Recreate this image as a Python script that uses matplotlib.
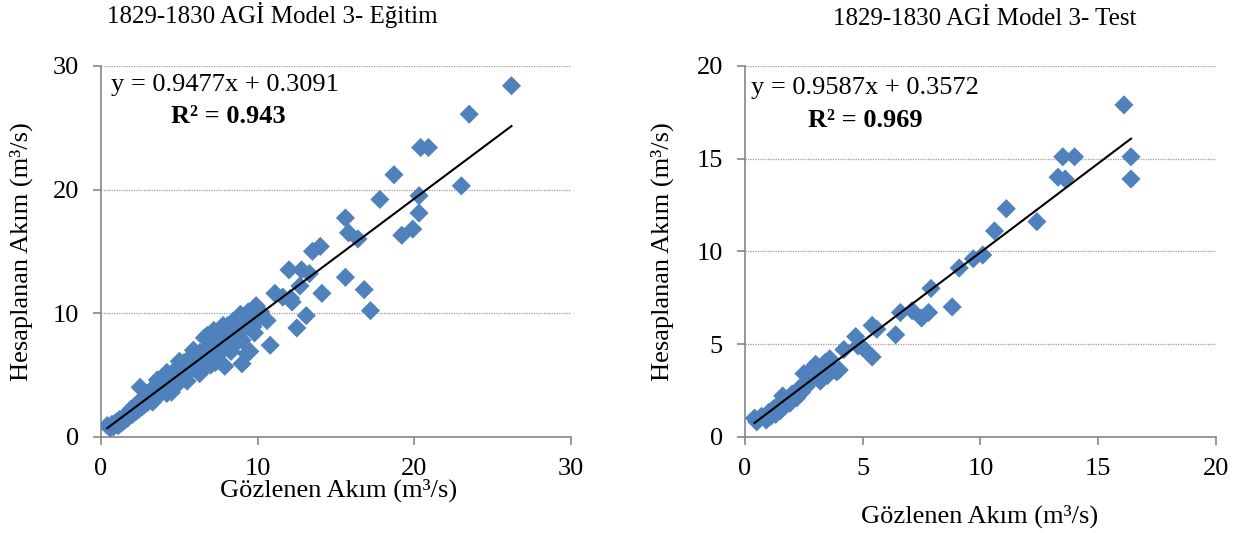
import numpy as np
import matplotlib
matplotlib.use("Agg")
import matplotlib.pyplot as plt

plt.rcParams["font.family"] = ["Liberation Serif", "DejaVu Serif"]

# Eğitim (training) set: observed vs. computed flow, m3/s
train_obs = [0.4, 0.6, 0.7, 0.8, 0.9, 1.0, 1.1, 1.2, 1.3, 1.4, 1.5, 1.6, 1.7, 1.8,
             1.9, 2.0, 2.1, 2.2, 2.3, 2.4, 2.5, 2.5, 2.6, 2.7, 2.8, 2.9, 3.0, 3.1,
             3.2, 3.3, 3.4, 3.5, 3.6, 3.7, 3.8, 3.9, 4.0, 4.1, 4.2, 4.3, 4.4, 4.5,
             4.6, 4.7, 4.8, 4.9, 5.0, 5.1, 5.2, 5.3, 5.4, 5.5, 5.6, 5.7, 5.8, 5.9,
             6.0, 6.1, 6.2, 6.3, 6.4, 6.5, 6.6, 6.7, 6.8, 6.9, 7.0, 7.1, 7.3, 7.4,
             7.5, 7.6, 7.7, 7.8, 7.9, 8.0, 8.2, 8.4, 8.5, 8.6, 8.8, 9.0, 9.0, 9.2,
             9.3, 9.5, 9.6, 9.8, 9.9, 10.1, 10.2, 10.6, 10.8, 11.1, 11.6, 12.0,
             12.1, 12.2, 12.5, 12.7, 12.8, 13.1, 13.3, 13.5, 14.0, 14.1, 15.6,
             15.6, 15.8, 16.4, 16.8, 17.2, 17.8, 18.7, 19.2, 19.9, 20.3, 20.3,
             20.4, 20.9, 23.0, 23.5, 26.2,
             3.3, 3.6, 4.2, 4.5, 5.0, 5.5, 6.3, 6.8, 7.0, 7.2, 8.1, 8.3, 8.9,
             9.4, 9.7]
train_pred = [0.9, 0.7, 1.0, 0.8, 1.1, 1.2, 0.9, 1.4, 1.1, 1.5, 1.3, 1.7, 1.5, 1.9,
              2.2, 1.8, 2.4, 2.0, 2.6, 2.2, 4.0, 2.9, 2.4, 3.1, 2.6, 3.4, 2.8, 3.6,
              3.0, 3.9, 3.2, 4.1, 3.3, 3.8, 4.4, 3.6, 4.7, 3.9, 3.5, 4.9, 4.2, 5.1,
              4.4, 4.0, 5.4, 4.6, 5.7, 4.9, 5.3, 6.0, 5.0, 5.6, 6.3, 5.4, 5.9, 7.0,
              5.5, 6.4, 5.9, 6.8, 6.1, 5.5, 8.0, 6.6, 7.2, 6.3, 7.6, 6.9, 6.0, 7.4,
              8.3, 7.0, 6.9, 9.0, 5.7, 7.8, 8.6, 9.3, 7.4, 8.2, 8.9, 5.9, 7.8, 8.8,
              6.7, 6.9, 9.4, 8.4, 10.6, 9.6, 10.1, 9.4, 7.4, 11.6, 11.3, 13.5,
              11.2, 10.9, 8.8, 12.2, 13.5, 9.8, 13.2, 15.0, 15.4, 11.6, 17.7,
              12.9, 16.5, 16.0, 11.9, 10.2, 19.2, 21.2, 16.3, 16.8, 18.1, 19.5,
              23.4, 23.4, 20.3, 26.1, 28.4,
              2.8, 4.6, 5.2, 3.6, 6.1, 4.5, 5.1, 8.2, 5.8, 8.6, 9.0, 6.9, 9.9,
              10.1, 8.9]

# Test set
test_obs = [0.4, 0.5, 0.7, 0.9, 1.0, 1.1, 1.2, 1.3, 1.4, 1.5, 1.6, 1.7, 1.8, 1.9,
            2.0, 2.2, 2.3, 2.4, 2.5, 2.6, 2.7, 2.8, 2.9, 3.0, 3.1, 3.2, 3.3, 3.4,
            3.5, 3.6, 3.7, 3.9, 4.0, 4.2, 4.7, 4.8, 5.0, 5.4, 5.4, 5.6, 6.4, 6.6,
            7.1, 7.5, 7.8, 7.9, 8.8, 9.1, 9.7, 10.1, 10.6, 11.1, 12.4, 13.3,
            13.5, 13.6, 14.0, 16.1, 16.4, 16.4]
test_pred = [1.0, 0.8, 1.1, 0.9, 1.3, 1.1, 1.5, 1.2, 1.7, 1.4, 2.2, 1.7, 2.0, 1.8,
             2.3, 2.1, 2.6, 2.4, 3.4, 2.7, 3.0, 3.6, 3.2, 3.9, 3.4, 3.0, 3.6, 4.0,
             3.3, 4.2, 3.7, 3.5, 3.6, 4.7, 5.4, 4.9, 4.8, 4.3, 6.0, 5.8, 5.5, 6.7,
             6.8, 6.4, 6.7, 8.0, 7.0, 9.1, 9.6, 9.8, 11.1, 12.3, 11.6, 14.0,
             15.1, 13.9, 15.1, 17.9, 15.1, 13.9]

train_fit = (0.9477, 0.3091, 0.943)
test_fit = (0.9587, 0.3572, 0.969)

BLUE = "#4F81BD"
AXIS_GREY = "#868686"
FS = 18
FS_BIG = 19


def draw_panel(ax, obs, pred, fit, lim, step, eq_xy, r2_xy):
    ax.scatter(obs, pred, marker="D", s=95, color=BLUE, edgecolors="none",
               zorder=3)
    slope, icpt, r2 = fit
    xs = np.array([min(obs), max(obs)])
    ax.plot(xs, slope * xs + icpt, color="black", lw=1.5, zorder=4)

    ax.set_xlim(0, lim)
    ax.set_ylim(0, lim)
    ticks = np.arange(0, lim + step, step)
    ax.set_xticks(ticks)
    ax.set_yticks(ticks)
    ax.set_xticklabels([f"{t:g}" for t in ticks], fontsize=FS_BIG)
    ax.set_yticklabels([f"{t:g}" for t in ticks], fontsize=FS_BIG)
    ax.tick_params(direction="out", length=6, width=1.2, color=AXIS_GREY)
    ax.tick_params(axis="y", pad=10)
    ax.tick_params(axis="x", pad=9)

    for t in ticks[1:]:
        ax.axhline(t, color="#9A9A9A", lw=0.9, ls=(0, (1, 1)), zorder=1)

    for side in ("top", "right"):
        ax.spines[side].set_visible(False)
    for side in ("left", "bottom"):
        ax.spines[side].set_color(AXIS_GREY)
        ax.spines[side].set_linewidth(1.2)

    ax.text(*eq_xy, f"y = {slope:.4f}x + {icpt:.4f}", transform=ax.transAxes,
            fontsize=FS_BIG, ha="left", va="center")
    ax.text(*r2_xy, f"R² = {r2:.3f}", transform=ax.transAxes, fontsize=FS_BIG,
            fontweight="bold", ha="center", va="center")


fig = plt.figure(figsize=(12.36, 5.33), dpi=100)
ax1 = fig.add_axes([0.0817, 0.1807, 0.3803, 0.6955])
ax2 = fig.add_axes([0.6028, 0.1807, 0.3808, 0.6955])

draw_panel(ax1, train_obs, train_pred, train_fit, 30, 10,
           (0.022, 0.95), (0.27, 0.865))
draw_panel(ax2, test_obs, test_pred, test_fit, 20, 5,
           (0.012, 0.94), (0.255, 0.852))

fig.text(272 / 1236, 1 - 15 / 533, "1829-1830 AGİ Model 3- Eğitim",
         fontsize=FS, ha="center", va="center")
fig.text(985 / 1236, 1 - 19 / 533, "1829-1830 AGİ Model 3- Test",
         fontsize=FS, ha="center", va="center")

fig.text(339 / 1236, 1 - 490 / 533, "Gözlenen Akım (m³/s)",
         fontsize=FS_BIG, ha="center", va="center")
fig.text(980 / 1236, 1 - 516 / 533, "Gözlenen Akım (m³/s)",
         fontsize=FS_BIG, ha="center", va="center")
fig.text(21 / 1236, 1 - 252 / 533, "Hesaplanan Akım (m³/s)",
         fontsize=FS_BIG, ha="center", va="center", rotation=90)
fig.text(662 / 1236, 1 - 252 / 533, "Hesaplanan Akım (m³/s)",
         fontsize=FS_BIG, ha="center", va="center", rotation=90)

fig.savefig("out.png", dpi=100)
